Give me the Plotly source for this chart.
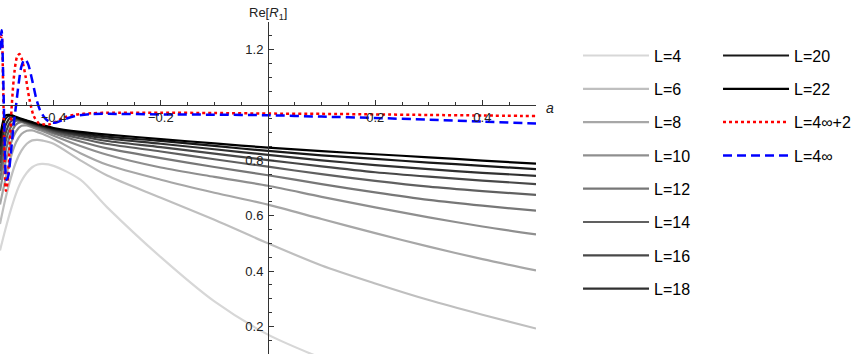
import plotly.graph_objects as go

# valores de a (eje horizontal) para las curvas de L finito
a_vals = [-0.5, -0.49, -0.48, -0.47, -0.46, -0.45, -0.44, -0.43, -0.42, -0.40,
          -0.35, -0.30, -0.20, -0.10, 0.0, 0.10, 0.20, 0.30, 0.40, 0.50]

# Re[R1], una lista por L
re_L4 = [0.474, 0.55, 0.62, 0.68, 0.725, 0.755, 0.775, 0.785, 0.787, 0.78,
         0.73, 0.63, 0.45, 0.29, 0.17, 0.085, None, None, None, None]
re_L6 = [0.57, 0.66, 0.735, 0.795, 0.835, 0.860, 0.872, 0.874, 0.871, 0.860,
         0.800, 0.745, 0.665, 0.585, 0.500, 0.420, 0.355, 0.295, 0.242, 0.192]
re_L8 = [0.64, 0.73, 0.81, 0.865, 0.895, 0.907, 0.908, 0.902, 0.895, 0.877,
         0.826, 0.784, 0.730, 0.683, 0.640, 0.588, 0.537, 0.488, 0.443, 0.402]
re_L10 = [0.69, 0.79, 0.86, 0.905, 0.925, 0.926, 0.920, 0.912, 0.905, 0.889,
          0.852, 0.820, 0.774, 0.740, 0.708, 0.668, 0.630, 0.594, 0.561, 0.532]
re_L12 = [0.73, 0.83, 0.895, 0.930, 0.938, 0.932, 0.925, 0.918, 0.911, 0.897,
          0.868, 0.843, 0.808, 0.776, 0.746, 0.714, 0.684, 0.657, 0.636, 0.618]
re_L14 = [0.76, 0.865, 0.920, 0.943, 0.942, 0.935, 0.928, 0.922, 0.915, 0.902,
          0.879, 0.859, 0.832, 0.804, 0.777, 0.750, 0.726, 0.705, 0.689, 0.675]
re_L16 = [0.79, 0.895, 0.940, 0.950, 0.944, 0.938, 0.931, 0.925, 0.919, 0.907,
          0.887, 0.870, 0.848, 0.824, 0.801, 0.778, 0.757, 0.741, 0.727, 0.714]
re_L18 = [0.82, 0.925, 0.955, 0.953, 0.946, 0.940, 0.934, 0.928, 0.922, 0.911,
          0.893, 0.879, 0.860, 0.840, 0.820, 0.800, 0.783, 0.768, 0.755, 0.744]
re_L20 = [0.85, 0.950, 0.962, 0.955, 0.948, 0.942, 0.936, 0.930, 0.925, 0.914,
          0.898, 0.886, 0.870, 0.852, 0.834, 0.818, 0.805, 0.792, 0.780, 0.768]
re_L22 = [0.88, 0.962, 0.964, 0.957, 0.950, 0.944, 0.938, 0.932, 0.927, 0.917,
          0.903, 0.893, 0.877, 0.861, 0.846, 0.833, 0.822, 0.811, 0.799, 0.788]

L_labels = ["L=4", "L=6", "L=8", "L=10", "L=12", "L=14", "L=16", "L=18", "L=20", "L=22"]
L_curves = [re_L4, re_L6, re_L8, re_L10, re_L12, re_L14, re_L16, re_L18, re_L20, re_L22]
gray_levels = [215, 191, 167, 143, 119, 96, 72, 48, 24, 0]

# curva L=4∞+2 (punteada roja)
a_odd = [-0.5, -0.497, -0.494, -0.4915, -0.489, -0.486, -0.482, -0.478, -0.473, -0.468,
         -0.4636, -0.459, -0.452, -0.445, -0.437, -0.428, -0.418, -0.408, -0.395, -0.38,
         -0.36, -0.33, -0.3, -0.2, -0.1, 0.0, 0.1, 0.2, 0.3, 0.4, 0.5]
re_odd = [1.22, 1.25, 1.05, 0.80, 0.69, 0.72, 0.85, 1.0, 1.12, 1.175,
          1.184, 1.165, 1.10, 1.02, 0.96, 0.935, 0.93, 0.93, 0.94, 0.955,
          0.965, 0.97, 0.972, 0.972, 0.971, 0.969, 0.968, 0.966, 0.964, 0.962, 0.96]

# curva L=4∞ (discontinua azul)
a_inf = [-0.5, -0.497, -0.494, -0.491, -0.488, -0.485, -0.48, -0.475, -0.47, -0.465,
         -0.46, -0.454, -0.448, -0.44, -0.432, -0.425, -0.415, -0.405, -0.395, -0.38,
         -0.36, -0.33, -0.3, -0.2, -0.1, 0.0, 0.1, 0.2, 0.3, 0.4, 0.5]
re_inf = [1.20, 1.27, 1.10, 0.85, 0.73, 0.74, 0.82, 0.92, 1.0, 1.08,
          1.14, 1.165, 1.15, 1.09, 1.02, 0.98, 0.95, 0.937, 0.937, 0.948,
          0.96, 0.967, 0.968, 0.966, 0.965, 0.963, 0.958, 0.953, 0.947, 0.94, 0.933]

fig = go.Figure()

for i, (name, vals) in enumerate(zip(L_labels, L_curves)):
    g = gray_levels[i]
    fig.add_trace(go.Scatter(
        x=a_vals, y=vals, mode="lines", name=name,
        line=dict(color=f"rgb({g},{g},{g})", width=2.2, shape="spline", smoothing=0.8),
        legend="legend" if i < 8 else "legend2", legendgroup=name,
    ))

fig.add_trace(go.Scatter(
    x=a_odd, y=re_odd, mode="lines", name="L=4∞+2",
    line=dict(color="rgb(255,0,0)", width=2.5, dash="3px,3px", shape="spline", smoothing=0.8),
    legend="legend2", legendgroup="odd",
))
fig.add_trace(go.Scatter(
    x=a_inf, y=re_inf, mode="lines", name="L=4∞",
    line=dict(color="rgb(0,0,255)", width=2.5, dash="9px,5px", shape="spline", smoothing=0.8),
    legend="legend2", legendgroup="inf",
))

fuente = "Liberation Sans, Arial, sans-serif"
legend_style = dict(
    font=dict(family=fuente, size=16, color="black"),
    traceorder="grouped", tracegroupgap=9.5, itemwidth=66,
    bgcolor="rgba(0,0,0,0)", yanchor="top", xanchor="left",
)

fig.update_layout(
    width=867, height=354,
    margin=dict(l=0, r=331, t=22, b=0, autoexpand=False),
    plot_bgcolor="white", paper_bgcolor="white",
    font=dict(family=fuente, size=13, color="#222"),
    showlegend=True,
    legend=dict(x=1.0784, y=0.95, **legend_style),
    legend2=dict(x=1.3396, y=0.95, **legend_style),
    xaxis=dict(
        range=[-0.5, 0.5], anchor="free", position=0.75,
        showline=True, linecolor="#333", linewidth=1,
        showgrid=False, zeroline=False,
        tickvals=[-0.4, -0.2, 0.2, 0.4],
        ticktext=["−0.4", "−0.2", "0.2", "0.4"],
        ticks="inside", ticklen=5, tickcolor="#333",
        minor=dict(ticks="inside", ticklen=3, dtick=0.05, tick0=0, tickcolor="#333", showgrid=False),
    ),
    yaxis=dict(
        range=[0.1, 1.3], anchor="free", position=0.5,
        showline=True, linecolor="#333", linewidth=1,
        showgrid=False, zeroline=False,
        tickvals=[0.2, 0.4, 0.6, 0.8, 1.2],
        ticktext=["0.2", "0.4", "0.6", "0.8", "1.2"],
        ticks="inside", ticklen=5, tickcolor="#333", ticklabelstandoff=2,
        minor=dict(ticks="inside", ticklen=3, dtick=0.05, tick0=0, tickcolor="#333", showgrid=False),
    ),
    annotations=[
        dict(x=0, y=1, xref="x", yref="paper", text="Re[<i>R</i><sub>1</sub>]",
             showarrow=False, xanchor="center", yanchor="bottom", yshift=-2,
             font=dict(family=fuente, size=13, color="#222")),
        dict(x=1, y=1.0, xref="paper", yref="y", text="<i>a</i>",
             showarrow=False, xanchor="left", yanchor="middle", xshift=8, yshift=-3,
             font=dict(family=fuente, size=14, color="#222")),
    ],
)

# sin margen del body para que el grafico empiece en la esquina
fig.write_html("out.html", config={"displayModeBar": False},
               post_script="document.body.style.margin='0';")
